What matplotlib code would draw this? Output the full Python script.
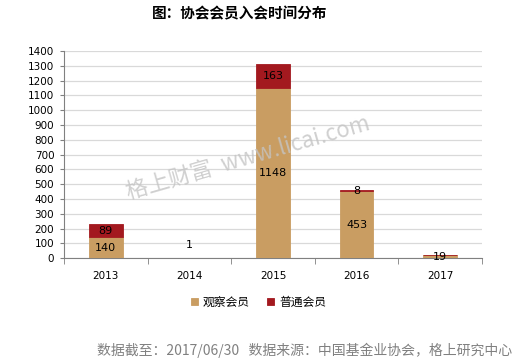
"""Stacked bar chart: association members by year of joining."""
import numpy as np
import matplotlib
matplotlib.use('Agg')
import matplotlib.pyplot as plt

plt.rcParams['font.family'] = ['DejaVu Sans', 'Noto Sans CJK SC']

years = ['2013', '2014', '2015', '2016', '2017']
observer = [140, 1, 1148, 453, 19]
regular = [89, 0, 163, 8, 0]
series_names = ['观察会员', '普通会员']
colors = ['#C99D62', '#A3191F']
cjk = ['Noto Sans CJK SC', 'DejaVu Sans']

fig = plt.figure(figsize=(5.22, 3.62), dpi=100)
ax = fig.add_axes([0.1226, 0.287, 0.8008, 0.572])

x = np.arange(len(years))
width = 0.4
bottoms = np.zeros(len(years))
for vals, name, color in zip([observer, regular], series_names, colors):
    vals = np.array(vals, dtype=float)
    ax.bar(x, vals, width, bottom=bottoms, color=color, label=name, zorder=3,
           edgecolor=color, linewidth=0.6)
    for xi, b, v in zip(x, bottoms, vals):
        if v == 0:
            continue
        if v < 5:
            # tiny bar: label sits above it
            ax.annotate(f'{int(v)}', (xi, b + v), xytext=(0, 6),
                        textcoords='offset points', ha='center', va='bottom',
                        fontsize=8, zorder=4)
        else:
            ax.text(xi, b + v / 2, f'{int(v)}', ha='center', va='center',
                    fontsize=8, zorder=4)
    bottoms += vals

ax.set_xlim(-0.5, len(years) - 0.5)
ax.set_ylim(0, 1400)
ax.set_yticks(np.arange(0, 1401, 100))
ax.tick_params(axis='y', labelsize=7.5, length=3, color='#808080', pad=4)
ax.set_xticks(x)
ax.set_xticklabels(years)
ax.set_xticks(np.arange(-0.5, len(years)), minor=True)
ax.tick_params(axis='x', which='major', length=0, labelsize=7.5, pad=9)
ax.tick_params(axis='x', which='minor', length=4, color='#808080')
ax.grid(axis='y', color='#D9D9D9', linewidth=0.9, zorder=0)
for side in ['top', 'right']:
    ax.spines[side].set_visible(False)
for side in ['left', 'bottom']:
    ax.spines[side].set_color('#808080')

fig.text(0.46, 0.962, '图：协会会员入会时间分布', ha='center', va='center',
         fontsize=10.5, fontweight='bold', family=cjk)

fig.text(0.475, 0.565, '格上财富  www.licai.com', ha='center', va='center',
         fontsize=16, color='#C4C4C4', rotation=16, family=cjk, zorder=5,
         alpha=0.8)

leg = fig.legend(loc='center', bbox_to_anchor=(0.495, 0.165), ncol=2,
                 frameon=False, handlelength=0.6, handleheight=0.6,
                 handletextpad=0.4, columnspacing=1.5,
                 prop={'family': cjk, 'size': 8.5})

fig.text(0.186, 0.032, '数据截至：2017/06/30   数据来源：中国基金业协会，格上研究中心',
         ha='left', va='center', fontsize=10, color='#808080', family=cjk)

fig.savefig('out.png', dpi=100)
